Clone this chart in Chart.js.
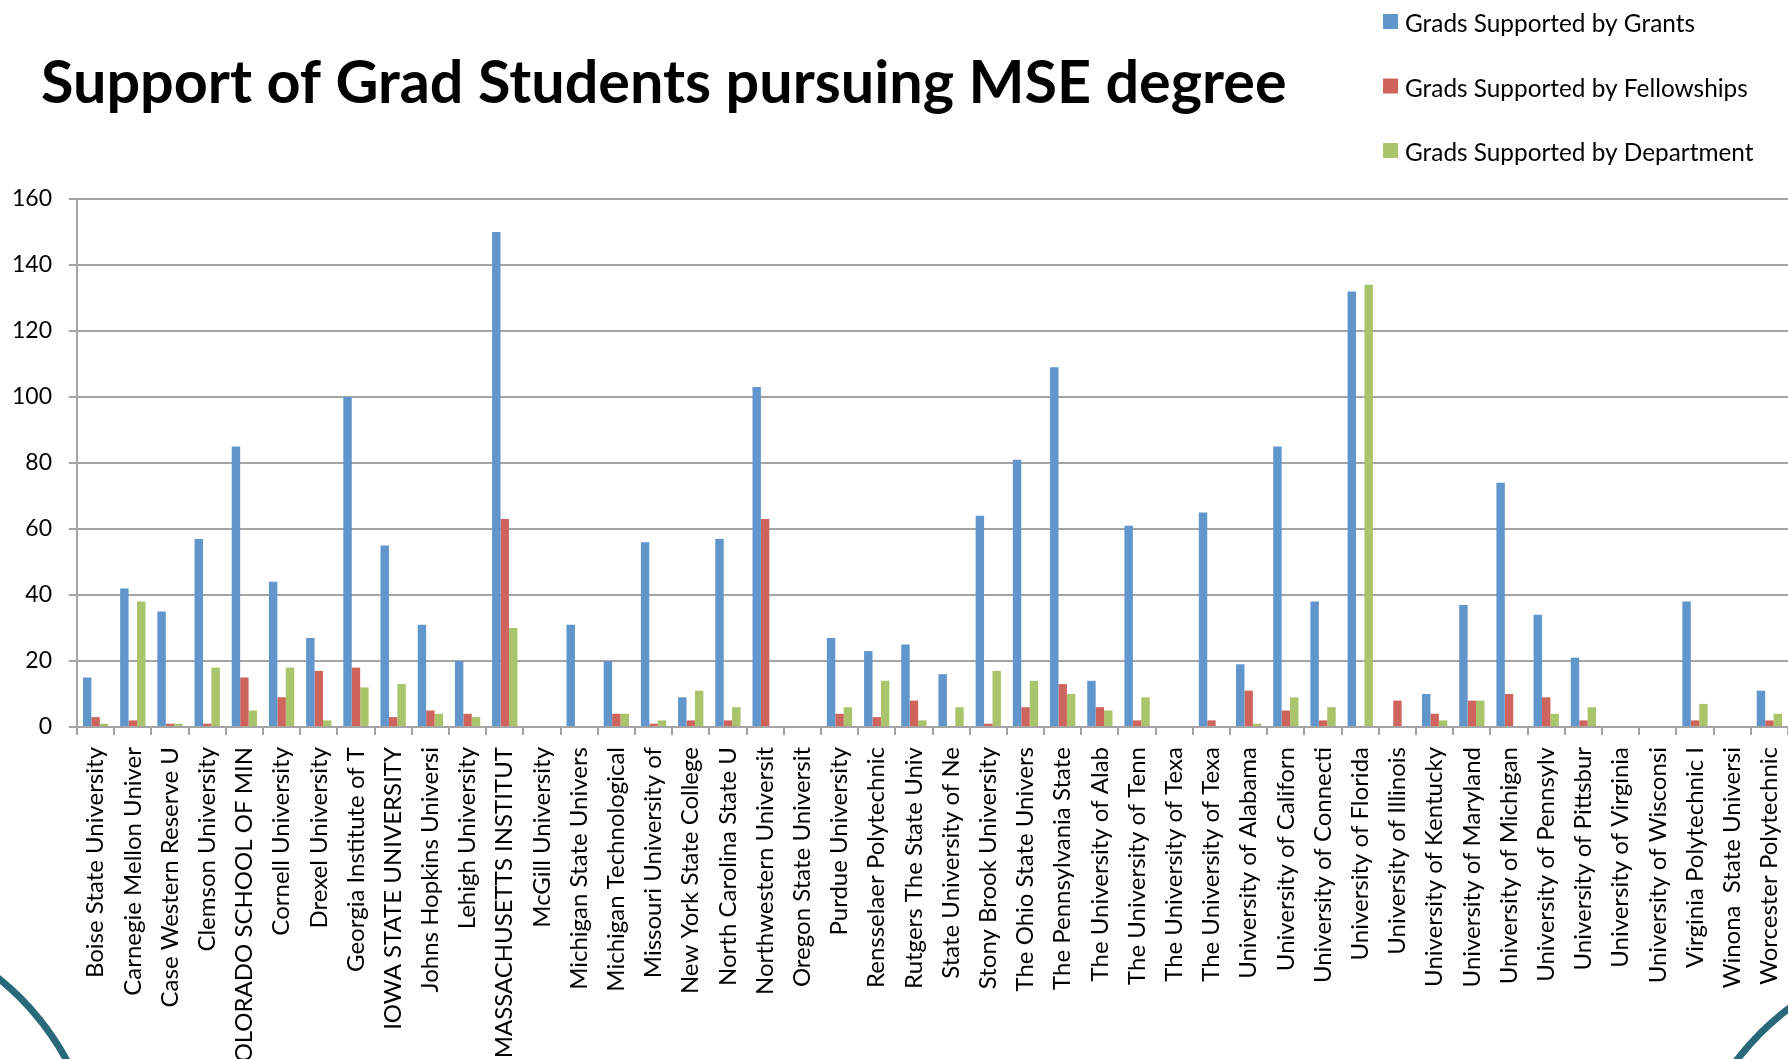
<!DOCTYPE html>
<html>
<head>
<meta charset="utf-8">
<title>Support of Grad Students pursuing MSE degree</title>
<script src="https://cdn.jsdelivr.net/npm/chart.js@4.4.0/dist/chart.umd.min.js"></script>
<style>
  html, body { margin: 0; padding: 0; background: #fff; overflow: hidden; }
  #wrap { position: relative; width: 1788px; height: 1059px; overflow: hidden; }
  #chart { position: absolute; left: 0; top: 0; }
  .arc { position: absolute; width: 552px; height: 552px; border: 7px solid #286a79; border-radius: 50%; box-sizing: border-box; }
  #arcLeft { left: -449px; top: 914px; }
  #arcRight { left: 1677px; top: 950px; }
</style>
</head>
<body>
<div id="wrap">
  <div class="arc" id="arcLeft"></div>
  <div class="arc" id="arcRight"></div>
  <canvas id="chart" width="1788" height="1059"></canvas>
</div>
<script>
//chart data
var titleText = 'Support of Grad Students pursuing MSE degree';

var schools = [
  'Boise State University', 'Carnegie Mellon Univer', 'Case Western Reserve U', 'Clemson University',
  'COLORADO SCHOOL OF MIN', 'Cornell University', 'Drexel University', 'Georgia Institute of T',
  'IOWA STATE UNIVERSITY', 'Johns Hopkins Universi', 'Lehigh University', 'MASSACHUSETTS INSTITUT',
  'McGill University', 'Michigan State Univers', 'Michigan Technological', 'Missouri University of',
  'New York State College', 'North Carolina State U', 'Northwestern Universit', 'Oregon State Universit',
  'Purdue University', 'Rensselaer Polytechnic', 'Rutgers The State Univ', 'State University of Ne',
  'Stony Brook University', 'The Ohio State Univers', 'The Pennsylvania State', 'The University of Alab',
  'The University of Tenn', 'The University of Texa', 'The University of Texa', 'University of Alabama',
  'University of Californ', 'University of Connecti', 'University of Florida', 'University of Illinois',
  'University of Kentucky', 'University of Maryland', 'University of Michigan', 'University of Pennsylv',
  'University of Pittsbur', 'University of Virginia', 'University of Wisconsi', 'Virginia Polytechnic I',
  'Winona  State Universi', 'Worcester Polytechnic'
];

var seriesNames = ['Grads Supported by Grants', 'Grads Supported by Fellowships', 'Grads Supported by Department'];
var seriesColors = ['#6096cb', '#cf645d', '#aac46c'];

var grants = [15, 42, 35, 57, 85, 44, 27, 100, 55, 31, 20, 150, 0, 31, 20, 56, 9, 57, 103, 0, 27, 23, 25,
  16, 64, 81, 109, 14, 61, 0, 65, 19, 85, 38, 132, 0, 10, 37, 74, 34, 21, 0, 0, 38, 0, 11];
var fellowships = [3, 2, 1, 1, 15, 9, 17, 18, 3, 5, 4, 63, 0, 0, 4, 1, 2, 2, 63, 0, 4, 3, 8,
  0, 1, 6, 13, 6, 2, 0, 2, 11, 5, 2, 0, 8, 4, 8, 10, 9, 2, 0, 0, 2, 0, 2];
var department = [1, 38, 1, 18, 5, 18, 2, 12, 13, 4, 3, 30, 0, 0, 4, 2, 11, 6, 0, 0, 6, 14, 2,
  6, 17, 14, 10, 5, 9, 0, 0, 1, 9, 6, 134, 0, 2, 8, 0, 4, 6, 0, 0, 7, 0, 4];

var yTicks = [0, 20, 40, 60, 80, 100, 120, 140, 160];

var gridGray = '#a4a4a4';

//title and stacked legend in the top band
var headerPlugin = {
  id: 'header',
  afterDraw: (chart) => {
    var ctx = chart.ctx;
    ctx.save();
    ctx.textAlign = 'left';
    ctx.textBaseline = 'alphabetic';
    ctx.fillStyle = '#000';

    ctx.font = 'bold 100px Lato';
    var ts = 100 * 1246 / ctx.measureText(titleText).width;
    ctx.font = 'bold ' + ts + 'px Lato';
    ctx.fillText(titleText, 41, 103);

    ctx.font = '100px Lato';
    var ls = 100 * 290 / ctx.measureText(seriesNames[0]).width;
    ctx.font = ls + 'px Lato';
    chart.data.datasets.forEach(function (ds, i) {
      var top = 14 + i * 64.5;
      ctx.fillStyle = ds.backgroundColor;
      ctx.fillRect(1383, top, 15, 15);
      ctx.fillStyle = '#000';
      ctx.fillText(ds.label, 1405, top + 18);
    });
    ctx.restore();
  }
};

var ctx = document.getElementById('chart').getContext('2d');
var myChart = new Chart(ctx, {
  type: 'bar',
  data: {
    labels: schools,
    datasets: [
      { label: seriesNames[0], data: grants, backgroundColor: seriesColors[0] },
      { label: seriesNames[1], data: fellowships, backgroundColor: seriesColors[1] },
      { label: seriesNames[2], data: department, backgroundColor: seriesColors[2] }
    ]
  },
  options: {
    responsive: false,
    animation: false,
    devicePixelRatio: 1,
    categoryPercentage: 0.68,
    barPercentage: 1.0,
    layout: { padding: { top: 199, left: 0, right: 0, bottom: 0 } },
    plugins: {
      legend: { display: false },
      title: { display: false },
      tooltip: { enabled: false }
    },
    scales: {
      x: {
        grid: { display: true, drawOnChartArea: false, drawTicks: true, tickLength: 8, offset: true, color: gridGray, lineWidth: 2 },
        border: { display: false },
        ticks: {
          autoSkip: false, minRotation: 90, maxRotation: 90, padding: 12,
          color: '#000', font: { family: 'Lato', size: 24 }
        },
        afterFit: (s) => { s.height = 332; s.paddingLeft = 0; s.paddingRight = 0; }
      },
      y: {
        min: 0,
        max: 160,
        afterBuildTicks: (s) => { s.ticks = yTicks.map(v => ({ value: v })); },
        grid: { color: gridGray, lineWidth: 2, drawTicks: true, tickLength: 8 },
        border: { display: true, color: gridGray, width: 2 },
        ticks: { padding: 17, color: '#000', font: { family: 'Lato', size: 23 } },
        afterFit: (s) => { s.width = 77; }
      }
    }
  },
  plugins: [headerPlugin]
});
</script>
</body>
</html>
